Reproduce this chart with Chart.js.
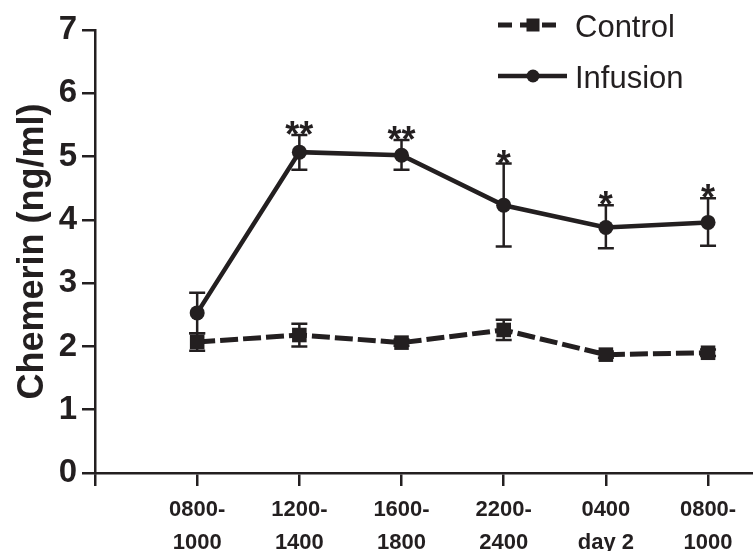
<!DOCTYPE html>
<html>
<head>
<meta charset="utf-8">
<script src="https://cdn.jsdelivr.net/npm/chart.js@4/dist/chart.umd.min.js"></script>
<style>
  html, body { margin: 0; padding: 0; background: #fff; }
  #wrap { width: 753px; height: 551px; }
</style>
</head>
<body>
<div id="wrap"><canvas id="chemerinChart" width="753" height="551"></canvas></div>
<script>
const ink = '#231f20';
const fontFamily = "'Liberation Sans', Arial, Helvetica, sans-serif";

// time windows (x positions 1..6, position 0 is left empty)
const categories = [
  ['0800-', '1000'],
  ['1200-', '1400'],
  ['1600-', '1800'],
  ['2200-', '2400'],
  ['0400', 'day 2'],
  ['0800-', '1000']
];
const yTicks = [0, 1, 2, 3, 4, 5, 6, 7];

const controlValues = [2.07, 2.18, 2.06, 2.26, 1.87, 1.90];
const controlErr = [0.14, 0.18, 0.05, 0.16, 0.05, 0.05];

const infusionValues = [2.53, 5.07, 5.02, 4.23, 3.88, 3.96];
const infusionErrUp = [0.32, 0.27, 0.24, 0.66, 0.35, 0.38];
const infusionErrDown = [0.32, 0.28, 0.23, 0.65, 0.33, 0.37];
const infusionStars = ['', '**', '**', '*', '*', '*'];

const toPoints = vals => vals.map((v, i) => ({ x: i + 1, y: v }));

// error bars under the points, stars and legend on top
const extras = {
  id: 'extras',
  beforeDatasetsDraw(chart) {
    const { ctx, scales: { x, y } } = chart;
    const bars = [
      { vals: controlValues, up: controlErr, down: controlErr },
      { vals: infusionValues, up: infusionErrUp, down: infusionErrDown }
    ];
    ctx.save();
    ctx.strokeStyle = ink;
    ctx.lineWidth = 2.5;
    bars.forEach(b => {
      b.vals.forEach((v, i) => {
        const px = x.getPixelForValue(i + 1);
        const top = y.getPixelForValue(v + b.up[i]);
        const bot = y.getPixelForValue(v - b.down[i]);
        ctx.beginPath();
        ctx.moveTo(px, top); ctx.lineTo(px, bot);
        ctx.moveTo(px - 8, top); ctx.lineTo(px + 8, top);
        ctx.moveTo(px - 8, bot); ctx.lineTo(px + 8, bot);
        ctx.stroke();
      });
    });
    ctx.restore();
  },
  afterDraw(chart) {
    const { ctx, scales: { x, y } } = chart;
    ctx.save();
    ctx.fillStyle = ink;
    ctx.strokeStyle = ink;

    // significance stars
    ctx.font = 'bold 36px ' + fontFamily;
    ctx.textAlign = 'center';
    ctx.textBaseline = 'alphabetic';
    infusionStars.forEach((s, i) => {
      if (!s) return;
      const px = x.getPixelForValue(i + 1);
      const top = y.getPixelForValue(infusionValues[i] + infusionErrUp[i]);
      ctx.fillText(s, px, top + 12);
    });

    // legend
    ctx.lineWidth = 5;
    ctx.setLineDash([14, 8]);
    ctx.beginPath();
    ctx.moveTo(498, 25); ctx.lineTo(562, 25);
    ctx.stroke();
    ctx.setLineDash([]);
    ctx.fillRect(526.5, 18.5, 13, 13);

    ctx.lineWidth = 4.5;
    ctx.beginPath();
    ctx.moveTo(498, 76); ctx.lineTo(567, 76);
    ctx.stroke();
    ctx.beginPath();
    ctx.arc(533, 76, 6.5, 0, Math.PI * 2);
    ctx.fill();

    ctx.font = '31px ' + fontFamily;
    ctx.textAlign = 'left';
    ctx.fillText('Control', 575, 37);
    ctx.fillText('Infusion', 575, 88);
    ctx.restore();
  }
};

new Chart(document.getElementById('chemerinChart'), {
  type: 'line',
  data: {
    datasets: [
      {
        label: 'Control',
        data: toPoints(controlValues),
        borderColor: ink,
        backgroundColor: ink,
        borderWidth: 5,
        borderDash: [18, 5],
        pointStyle: 'rect',
        pointRadius: 10.3,
        pointBorderWidth: 0,
        tension: 0,
        clip: false
      },
      {
        label: 'Infusion',
        data: toPoints(infusionValues),
        borderColor: ink,
        backgroundColor: ink,
        borderWidth: 4.5,
        pointStyle: 'circle',
        pointRadius: 7.5,
        pointBorderWidth: 0,
        tension: 0,
        clip: false
      }
    ]
  },
  options: {
    responsive: false,
    animation: false,
    layout: { autoPadding: false, padding: { top: 30, right: 0, bottom: 0, left: 0 } },
    plugins: { legend: { display: false }, tooltip: { enabled: false } },
    scales: {
      x: {
        type: 'linear',
        min: 0,
        max: 6.44,
        afterBuildTicks: axis => { axis.ticks = [0, 1, 2, 3, 4, 5, 6].map(v => ({ value: v })); },
        afterFit: axis => { axis.height = 78; axis.paddingLeft = 0; axis.paddingRight = 0; },
        border: { color: ink, width: 2.5 },
        grid: { drawOnChartArea: false, drawTicks: true, tickLength: 13, tickColor: ink, lineWidth: 2.5 },
        ticks: {
          autoSkip: false,
          maxRotation: 0,
          padding: 7,
          color: ink,
          font: { family: fontFamily, size: 22, weight: 'bold', lineHeight: 1.52 },
          callback: v => (v >= 1 && v <= 6 ? categories[v - 1] : '')
        }
      },
      y: {
        min: 0,
        max: 7,
        afterBuildTicks: axis => { axis.ticks = yTicks.map(v => ({ value: v })); },
        afterFit: axis => { axis.width = 95; },
        border: { color: ink, width: 2.5 },
        grid: { drawOnChartArea: false, drawTicks: true, tickLength: 13, tickColor: ink, lineWidth: 2.5 },
        ticks: {
          padding: 5,
          color: ink,
          font: { family: fontFamily, size: 33, weight: 'bold' }
        },
        title: {
          display: true,
          text: 'Chemerin (ng/ml)',
          color: ink,
          padding: { top: 11, bottom: 0 },
          font: { family: fontFamily, size: 36, weight: 'bold', lineHeight: 1.2 }
        }
      }
    }
  },
  plugins: [extras]
});
</script>
</body>
</html>
